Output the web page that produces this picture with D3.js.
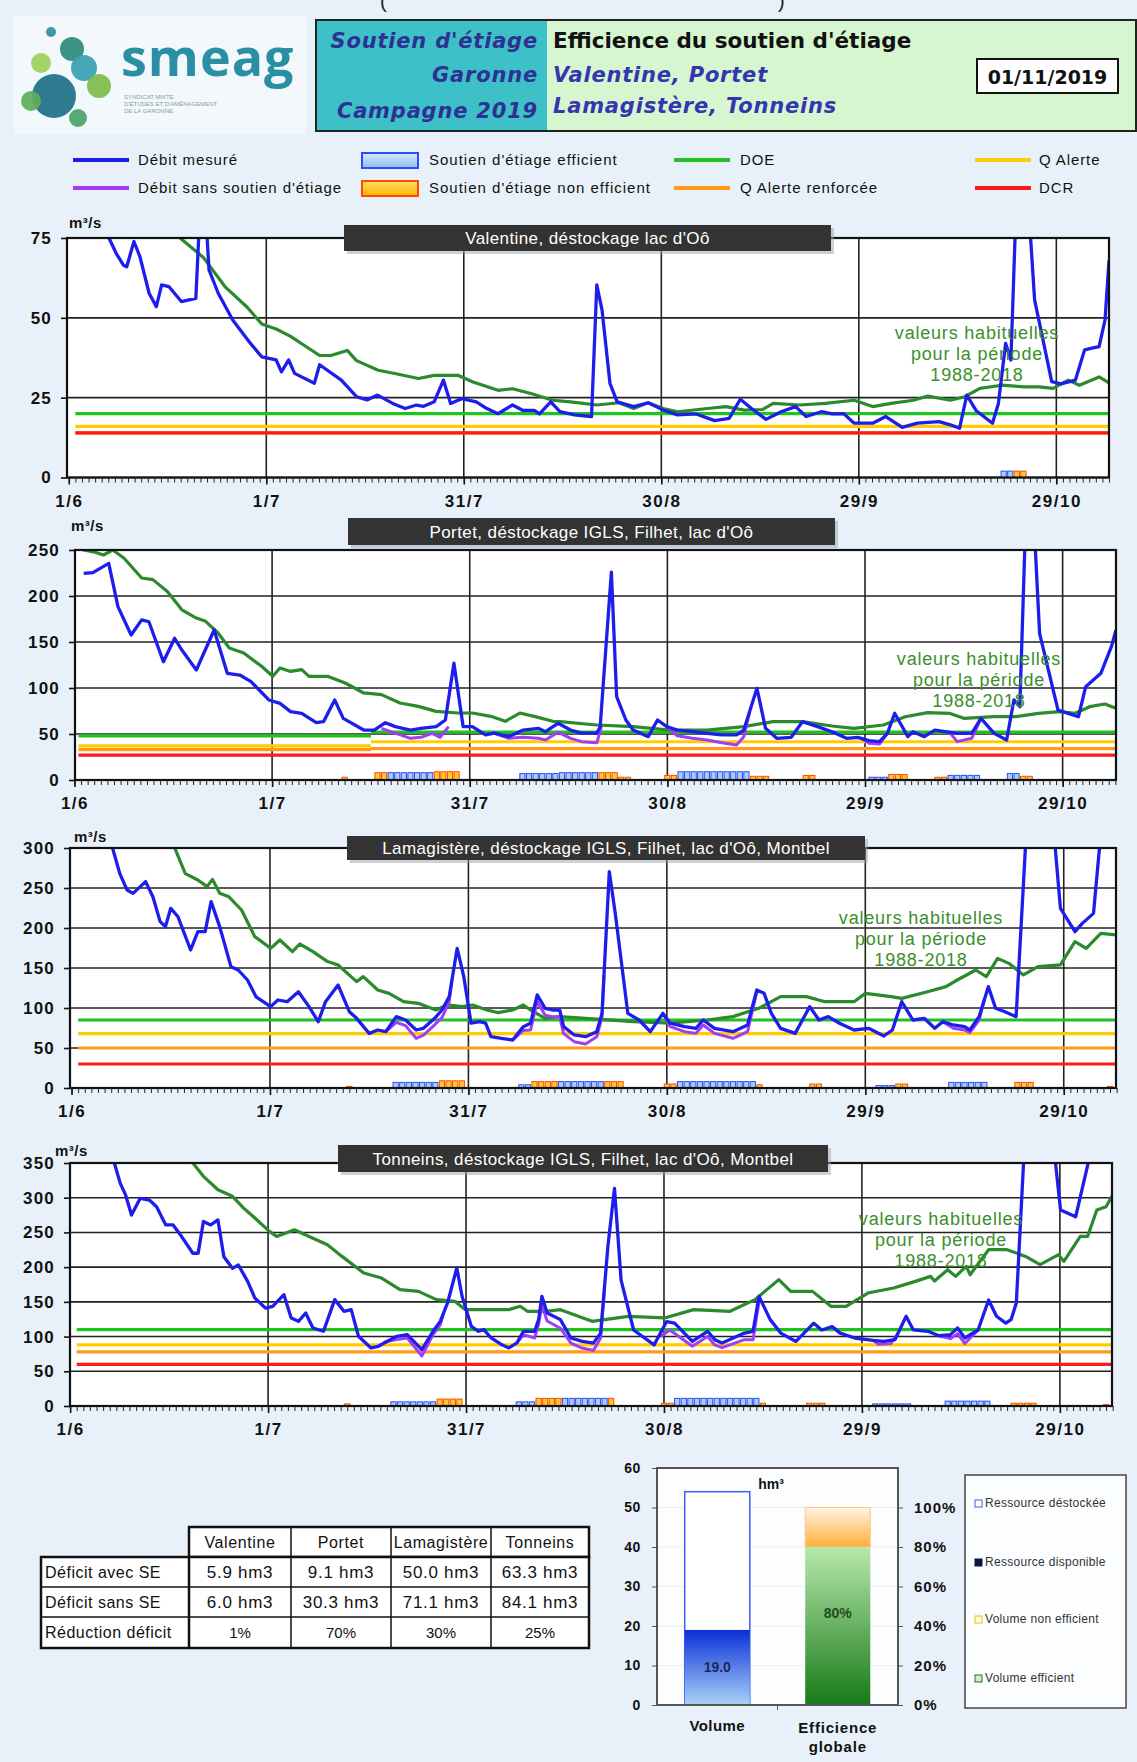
<!DOCTYPE html>
<html><head><meta charset="utf-8">
<script src="https://cdn.jsdelivr.net/npm/d3@7"></script>
<style>body{margin:0;background:#e8f1f9;}svg{display:block}</style>
</head><body><svg id="c" width="1137" height="1762"></svg>
<script>
// ---------------- DATA ----------------
const xTickDays = [0, 30, 60, 90, 120, 150];
const xTickLabels = ["1/6", "1/7", "31/7", "30/8", "29/9", "29/10"];
const limitNames = ["DOE", "Q Alerte", "Q Alerte renforcée", "DCR"];

const valentineLimits = [20, 16, 14, 14];
const portetLimitsBefore = [48, 37, 33, 27];
const portetLimitsAfter = [52, 41.6, 34, 27];
const portetLimitChangeDay = 45;
const lamagistereLimits = [85, 68, 50, 30];
const tonneinsLimits = [110, 88, 78, 60];

const valentineMeasured = [[1,100],[4,100],[6.1,75],[7.2,70.2],[8.3,66.5],[8.8,66],[9.9,73.9],[10.8,69.2],[12.2,57.7],[13.3,53.5],[14.1,60.3],[15.2,59.8],[17.1,55.1],[19.3,56.1],[20.3,100],[21.3,65],[22.7,57.7],[24.9,49.3],[27.6,42],[29.3,37.8],[31.5,36.8],[32.3,33.1],[33.4,36.8],[34.3,32.6],[37.3,29.5],[38.1,35.3],[41.4,30.5],[43.7,25.3],[45.3,24.3],[46.9,25.8],[49.2,23.2],[51.1,21.6],[52.8,22.7],[53.9,22.3],[55.5,23.7],[56.9,30.5],[58,23.2],[59.7,24.7],[61.9,23.7],[63.5,21.6],[65.2,20],[67.4,22.7],[69,21],[70.7,21],[71.5,19.9],[73.2,23.7],[74.6,20.6],[76.8,19.6],[79.4,19.1],[80.2,60.3],[81,52.4],[82.2,29.5],[83.3,23.7],[85.8,22.2],[88,23.4],[90.3,21.1],[92.5,19.6],[95.3,19.9],[98.1,17.8],[100.3,18.5],[102,24.5],[103.7,21.6],[105.9,18.2],[108.2,20.6],[110.4,22.2],[112,19.1],[114.3,20.6],[116,19.9],[117.7,20],[119.3,17],[122.1,17],[124.1,19.1],[126.6,15.7],[128.9,17],[132.2,17.5],[133.9,16.5],[135.3,15.4],[136.4,25.8],[137.8,21],[140.3,17],[141.2,23.2],[142.3,42],[143.1,36.8],[144.3,110],[145,110],[146.7,55.6],[149.3,30],[150.7,29.3],[152.9,30.5],[154.3,40],[155.4,40.5],[156.5,41],[157.4,49.4],[158,68]];
const valentineNoSupport = [];
const valentineUsual = [[1,110],[10,90],[16.9,75],[20.4,69],[23.8,59.6],[27.1,53.3],[29.3,48.1],[31.5,46.5],[33.7,44.2],[36.2,40.8],[38.1,38.2],[39.8,38.2],[42.3,39.8],[43.7,36.6],[47,33.6],[49.7,32.5],[53.1,31],[55.5,32],[59.1,32],[61.4,29.9],[65.2,27.3],[67.4,27.8],[70.2,26.3],[73.5,24.2],[76.2,23.7],[80.2,22.7],[83.6,23.4],[85.8,21.6],[88,23.4],[90.3,21.6],[92.5,20.6],[97,21.6],[99.8,22.2],[102.6,21.1],[105.4,21.3],[107,23.2],[111,22.7],[114.9,23.2],[119.3,24.2],[122.1,22.2],[124.9,23.2],[128.3,24.2],[130.5,25.5],[133.9,24.2],[136.1,25.3],[138.4,27.9],[141.7,28.9],[145.1,28.4],[147.4,28.4],[149.5,27.9],[151.8,30.5],[153.5,28.9],[156.5,31.5],[158,29.6]];
const valentineBars = [[142,143,2,"e"],[144,145,2,"n"]];

const portetMeasured = [[1.4,224.6],[2.8,225.4],[3.9,230],[5.2,235.5],[6.6,188.4],[8.6,157.6],[10.2,174],[11.3,172],[13.5,128.6],[15.2,154],[16.3,141.3],[18.5,119.6],[21.2,163],[23.2,116],[25.1,114.1],[26.8,106.9],[29.5,87],[31.2,83.3],[32.8,74.3],[34.5,72.5],[36.7,62.3],[37.8,63.4],[39.5,87],[40.8,67],[43.9,54.3],[45.5,54.3],[47.2,62.3],[48.7,58],[51,54.3],[52.6,56.2],[54.9,58],[56.3,65.2],[57.6,127],[59,58],[60.4,58],[62.4,49],[63.7,51],[65.9,47.1],[68.1,54.3],[70.4,56.2],[71.5,52.5],[73.4,61.6],[75.3,54.3],[77,51],[79.3,51],[79.8,58],[81.5,226],[82.3,90.6],[83.7,65.2],[84.8,54.3],[87.1,47.1],[88.5,65.2],[89.9,58],[91.5,54.3],[93.8,52.5],[96,50.7],[98.3,49],[100.5,49],[101.6,54.3],[103.6,99.6],[104.9,56.2],[106.6,45.3],[108.8,46.4],[110.5,63.4],[112.8,58],[115,52.5],[117.2,45.3],[118.9,46.4],[120.6,42.8],[122.2,41.7],[123.4,50.7],[124.5,72.5],[126.5,47.1],[127.3,52.5],[129,47.1],[130.6,54.3],[134,50.7],[136.2,50.7],[137.6,67],[139.6,50.7],[141.5,43.5],[142.6,87],[143.5,79.7],[144.6,330],[145.3,330],[146.5,159.4],[149.3,76],[152.4,68.8],[153.5,101.4],[155.8,116],[157.4,145],[158.1,163]];
const portetNoSupport = [
  [[46.6,56.2],[48.8,50.7],[51,45.3],[52.6,46.4],[54.3,50.7],[55.5,46.4],[56.8,58]],
  [[63.7,51],[65.9,45.3],[68.1,46.4],[70.4,45.3],[71.5,43.5],[73.4,52],[75.3,45.3],[77,41.7],[79.3,40.6],[80,58]],
  [[89.9,58],[91.5,48],[93.8,45.3],[96,43.5],[98.3,40.6],[100.5,38],[101.6,47.1],[102.5,74]],
  [[119.5,45],[120.6,39.9],[122.2,39.1],[123.4,50.7]],
  [[132.8,52],[134,41.7],[136.2,45.3],[137.6,67]]
];
const portetUsual = [[0.6,258],[1.4,250],[2.9,248],[4.4,244.6],[5.8,250],[7.5,241.3],[10.2,219.6],[11.9,217.8],[14.1,205],[16.3,185],[18.5,176],[19.9,172.5],[21.8,159.8],[23.5,143.5],[25.7,138],[28.4,123.6],[30.1,112.7],[31.2,121.7],[32.8,118],[34.5,120],[35.6,112.7],[38.4,112.7],[41.1,105.4],[43.9,94.6],[46.6,92.8],[49.4,83.7],[52.2,80],[54.9,74.6],[58.2,72.8],[60.4,72.8],[63.2,69.2],[65.4,63.8],[67.6,72.8],[69.8,69.2],[72.6,63.8],[73.7,63.4],[79.3,59.8],[84.8,58],[90.4,54.3],[96,54.3],[101.6,58],[106,63.4],[110.5,63.4],[115,58.7],[118.3,56.2],[122.8,59.8],[126.1,68.8],[129.5,73.2],[132.8,72.5],[135,67],[139.6,68.8],[142.9,68.8],[146.3,72.5],[149.6,74.3],[151.9,72.5],[154.1,79.7],[156.4,82.6],[158.1,77.9]];
const portetBars = [[41,41,3,"n"],[46,47,8,"n"],[48,54,8,"e"],[55,58,9,"n"],[68,73,7,"e"],[74,79,8,"e"],[80,82,8,"n"],[83,84,3,"n"],[90,91,5,"n"],[92,102,9,"e"],[103,105,4,"n"],[111,112,5,"n"],[121,123,3,"e"],[124,126,6,"n"],[131,132,3,"n"],[133,137,5,"e"],[142,143,7,"e"],[144,145,4,"n"]];

const lamagistereMeasured = [[1,380],[5,340],[6.2,300],[7.3,268],[8.4,247.5],[9.3,243.3],[11.2,258],[12.3,239],[13.4,208],[14.2,201.7],[15,224.6],[16.1,214],[18,172.5],[19.1,195.4],[20.2,195.4],[21.1,233],[22.4,201.7],[24.1,151.7],[25.2,147.5],[26.6,135],[27.9,114],[30.1,101.7],[31.2,110],[32.6,107.9],[34.3,120.4],[35.9,101.7],[37.3,82.9],[38.4,107.9],[40.3,128.7],[42,95.4],[43.1,87.1],[45,68.3],[46.3,72.5],[47.5,70.4],[49.1,89.2],[50.5,85],[52.1,72.5],[53.2,74.6],[54.9,87.1],[56,97.5],[57.1,114.2],[58.3,174.6],[59.3,139.2],[60.4,81],[61.7,83],[62.6,81],[63.4,64.2],[65,62.1],[66.7,60],[68.3,76.7],[69.4,81],[70.4,116.4],[71.6,99.6],[72.7,97.5],[73.8,97.5],[74.4,76.7],[76,66.3],[77.7,64.2],[79.4,70.4],[80.2,93.3],[81.3,270.4],[82.2,218.3],[84.1,93.3],[85.8,85],[87.5,70.4],[89.4,93.3],[90.5,81],[92.7,76.7],[94.4,74.6],[95.5,85],[97.2,74.6],[100,70.4],[102.2,78.8],[103.6,122.5],[104.7,118.3],[105.8,93.3],[107.2,74.6],[109.4,68.3],[111.6,101.7],[113,85],[114.4,89.2],[116.1,81],[118.3,72.5],[120.5,74.6],[122.8,65],[124.1,72.5],[125.5,107.9],[127.2,85],[128.9,87.1],[130.5,74.6],[131.7,82.9],[133.3,78.8],[135,76.7],[135.8,72.5],[137.2,89.2],[138.6,126.7],[139.7,99.6],[141.1,95.4],[142.8,89.2],[145,420],[147,480],[148.4,330],[149.5,224.6],[151.7,195.4],[152.8,205.8],[154.5,218.3],[156.5,400],[158,450]];
const lamagistereNoSupport = [
  [[47.5,70.4],[49.1,82],[50.5,78],[52.1,62],[53.2,66],[54.9,79],[56,88],[57.1,108],[57.5,134]],
  [[66.7,60],[68.3,72],[69.4,72.5],[70.4,108],[71.6,91],[72.7,89],[73.8,89],[74.4,68],[76,57.9],[77.7,55],[79.4,64],[80.2,89],[80.5,141]],
  [[89.4,93.3],[90.5,76.7],[92.7,70.4],[94.4,68.3],[95.5,78.8],[97.2,68.3],[100,62.1],[102.2,70.4],[103.6,120]],
  [[131.7,82.9],[133.3,74.6],[135,72.5],[135.8,69.2],[137.2,85],[138,110]]
];
const lamagistereUsual = [[1,420],[10,350],[15.6,300],[17.2,268],[19.1,260],[20.5,251.7],[21.3,260.8],[22.4,243.3],[23.8,239],[25.7,222.5],[27.7,189.2],[30.1,174.6],[31.5,185],[33.4,170.4],[34.5,180],[36.5,170.4],[38.7,158],[40.3,153.8],[43.1,132.9],[44.1,139.2],[46.3,122.5],[48,118.3],[50.2,107.9],[52.4,105.8],[55.1,97.5],[56.8,103.8],[59,101.7],[60.6,103.8],[62.8,97.5],[64.5,94.2],[66.7,97.5],[68.3,103.8],[69.4,97.5],[71.6,87.1],[73.8,89.2],[79.4,86],[85,83],[90.5,81],[96.1,85],[100,89.2],[103.9,99.6],[107.2,114.2],[111.1,114.2],[113.9,107.9],[118.3,107.9],[120,118.3],[123.9,114.2],[125.5,112],[129.4,120.4],[132.2,126.7],[133.9,135],[136.7,147.5],[138.3,139.2],[140,162],[141.7,155.8],[143.9,141.3],[146.1,151.7],[149.5,153.8],[151.7,182.9],[153.4,174.6],[155.6,193.3],[157.9,191.3]];
const lamagistereBars = [[42,42,2,"n"],[49,55,7,"e"],[56,59,9,"n"],[68,69,4,"e"],[70,73,8,"n"],[74,80,8,"e"],[81,83,8,"n"],[90,91,5,"n"],[92,103,8,"e"],[104,104,4,"n"],[112,113,5,"n"],[122,124,3,"e"],[125,126,5,"n"],[133,138,7,"e"],[143,145,7,"n"],[157,157,2,"n"]];

const tonneinsMeasured = [[1,420],[6.7,350],[7.6,320.7],[8.4,304],[9.3,275],[10.6,299],[12,296.7],[13.1,287],[14.5,260.8],[15.6,260.8],[16.9,244],[18.6,220],[19.4,220],[20.2,265.7],[21.3,260.8],[22.4,268],[23.3,215],[24.6,198.3],[25.5,203.1],[26.9,179.5],[28,155.5],[29.6,141],[30.7,143.5],[32.4,160.3],[33.5,126.7],[34.6,121.9],[35.7,134],[36.8,112.4],[38.4,107.6],[40.1,153.2],[41.5,136.4],[42.6,138.8],[43.7,100.4],[45.6,83.6],[46.7,86],[49.5,100.4],[51.1,102.8],[53.3,81.2],[55,107.6],[56.1,121.9],[57.2,148.4],[58.6,198.8],[59.4,158],[60.8,114.8],[61.9,107.6],[62.7,110],[63.8,98],[65.4,88.4],[66.5,83.6],[67.7,90.8],[68.7,107.6],[70.4,107.6],[71,124.4],[71.5,158],[72.3,134],[74.3,124.4],[75.9,97.9],[77.6,93],[79.3,90.6],[80.4,105],[81.5,229.9],[82.5,313.5],[83.5,181.4],[85.4,109.5],[88.5,88],[90.4,121.6],[91.6,119.3],[94.3,93],[96.6,107.6],[97.7,95.5],[98.8,90.6],[102.2,105],[103.5,107.6],[104.4,158],[106.1,124.4],[107.7,105],[110,93],[112.7,119.3],[113.9,109.5],[115.5,114.3],[116.7,105],[118.9,97.9],[121.7,94.5],[123.3,93],[125,95.5],[126.7,129.2],[127.8,109.5],[130,107.6],[131.7,101.2],[133.4,102.8],[134.5,112.4],[135.6,97.9],[137.6,109.5],[139.2,152.6],[140.4,129.2],[141.8,119.3],[142.6,124.4],[143.4,148.4],[145.2,480],[147.5,520],[149,380],[150.1,282.3],[152.4,272.6],[156,420],[158,460]];
const tonneinsNoSupport = [
  [[47.5,92],[49.5,95.6],[51.1,98],[53.3,72],[55,102.8],[56.1,117],[56.6,134]],
  [[67.7,90.8],[68.7,102.8],[70.4,98],[71,118],[71.5,145],[72.3,122.4],[74.3,112],[75.9,90.6],[77.6,83.5],[79.3,80.1],[80.4,97.9],[81,170]],
  [[89.5,100],[90.9,109.5],[94.3,86],[96.6,100],[97.7,88],[98.8,84],[102.2,95.5],[103.5,95.5],[104.4,150]],
  [[121.7,94.5],[122.5,89],[124.4,90],[125.5,105]],
  [[131.7,101.2],[133.4,97],[134.5,104],[135.6,90],[137.6,109.5]]
];
const tonneinsUsual = [[1,480],[10,420],[18.6,350],[20.2,330.8],[22.4,311.5],[24.6,302],[26.3,285],[28,270.7],[30.2,251.5],[31.3,244.2],[34,253.8],[36.2,244.2],[39,232.3],[41.2,215.5],[44.5,191.5],[47.2,184.3],[50,167.5],[52.8,165.1],[55.5,153.2],[58.3,150.8],[59.9,138.8],[62.7,138.8],[66.5,138.8],[68.2,143.6],[69.3,136.4],[72.1,136.4],[74.3,138.8],[79.1,122],[84.6,129.2],[90.1,126.8],[94.5,138.8],[100,136.4],[103.8,153.2],[107.4,182],[109.2,165.1],[112.5,165.1],[115.3,143.6],[117.6,143.6],[120.9,162.7],[124.8,170],[128.1,179.5],[130.4,186.7],[131,180],[133,196.3],[134.2,186.7],[135.8,201.1],[136.4,189.1],[139.2,225.1],[142,225.1],[144.8,215.5],[147,203.5],[149.8,217.9],[150.6,208.3],[153.1,244.2],[154.2,244.2],[155.6,282.3],[157,287.1],[158,304]];
const tonneinsBars = [[42,42,3,"n"],[49,55,6,"e"],[56,59,10,"n"],[68,70,6,"e"],[71,74,11,"n"],[75,81,11,"e"],[82,82,11,"n"],[90,91,4,"n"],[92,104,11,"e"],[105,105,4,"n"],[112,114,4,"n"],[122,127,3,"e"],[133,139,7,"e"],[143,146,4,"n"],[157,157,2,"n"]];

const stationNames = ["Valentine", "Portet", "Lamagistère", "Tonneins"];
const panelTitles = ["Valentine, déstockage lac d'Oô", "Portet, déstockage IGLS,  Filhet, lac d'Oô", "Lamagistère, déstockage IGLS, Filhet, lac d'Oô, Montbel", "Tonneins, déstockage IGLS,  Filhet, lac d'Oô, Montbel"];
const panelYMax = [75, 250, 300, 350];
const panelYStep = [25, 50, 50, 50];

const tableRowLabels = ["Déficit avec SE", "Déficit sans SE", "Réduction déficit"];
const deficitWithSE = [5.9, 9.1, 50.0, 63.3];
const deficitWithoutSE = [6.0, 30.3, 71.1, 84.1];
const deficitReduction = [1, 70, 30, 25];

const volCategories = ["Volume", "Efficience globale"];
const ressourceDisponible = 54;
const ressourceDestockee = 19.0;
const volumeEfficientPct = 80;
const volumeNonEfficientPct = 20;
const volLeftTicks = [0, 10, 20, 30, 40, 50, 60];
const volRightTicks = [0, 20, 40, 60, 80, 100];
const volLegend = ["Ressource déstockée", "Ressource disponible", "Volume non efficient", "Volume efficient"];

// ---------------- STYLE / LAYOUT ----------------
const C = {measured:"#1e1eec", nosupport:"#a23cf5", usual:"#2b8a2b", doe:"#1fc21f", alerte:"#ffcc00", renf:"#ff9a1a", dcr:"#ff1a1a",
  effFill:"#a9cdf5", effStroke:"#2b4cff", nonFill:"#ffc82e", nonStroke:"#ff4a00"};
const limitColors = [C.doe, C.alerte, C.renf, C.dcr];
const FONT = "'Liberation Sans', Arial, sans-serif";

const layout = [
  {left:67, right:1109, top:238, bottom:477.5, dMin:-0.27, dMax:158, title:[344,225,487,26], unit:[69,228], annot:[977,333]},
  {left:75, right:1116, top:550, bottom:780, dMin:0.08, dMax:158.1, title:[348,518,487,27], unit:[71,531], annot:[979,659]},
  {left:70, right:1116, top:848, bottom:1088, dMin:-0.23, dMax:157.9, title:[347,836,518,24], unit:[74,842], annot:[921,918]},
  {left:70, right:1112, top:1163, bottom:1406, dMin:-0.02, dMax:157.9, title:[338,1145,490,27], unit:[55,1156], annot:[941,1219]}
];

const svg = d3.select("#c");
const defs = svg.append("defs");
function vgrad(id, stops) {
  const g = defs.append("linearGradient").attr("id", id).attr("x1",0).attr("y1",0).attr("x2",0).attr("y2",1);
  stops.forEach(([o,c]) => g.append("stop").attr("offset", o).attr("stop-color", c));
}
vgrad("gBlue", [[0,"#0a2fd8"],[1,"#aad2f6"]]);
vgrad("gGreen", [[0,"#b8e8ad"],[1,"#167a16"]]);
vgrad("gOrange", [[0,"#fff4e0"],[1,"#ffae3a"]]);
vgrad("gLegBlue", [[0,"#d6e8fb"],[1,"#8fbef2"]]);
vgrad("gLegOr", [[0,"#ffe066"],[1,"#ffb400"]]);

svg.append("rect").attr("width",1137).attr("height",1762).attr("fill","#e8f1f9");

// stray parentheses from cropped line above
svg.append("text").attr("x",380).attr("y",8).attr("font-size",20).attr("font-family",FONT).attr("fill","#222").text("(");
svg.append("text").attr("x",778).attr("y",8).attr("font-size",20).attr("font-family",FONT).attr("fill","#222").text(")");

// ---------------- HEADER ----------------
const logo = svg.append("g");
logo.append("rect").attr("x",14).attr("y",16).attr("width",292).attr("height",118).attr("fill","#f3f8fc");
[[51,32,5,"#2f8f9d"],[72,49,12,"#2e8a78"],[41,63,10,"#9ccf5a"],[84,68,13,"#3aa0b0"],[54,96,22,"#1d6f86"],[99,86,12,"#7cbc48"],[31,101,10,"#5fae5a"],[78,118,9,"#4aa36a"]]
  .forEach(([cx,cy,r,c]) => logo.append("circle").attr("cx",cx).attr("cy",cy).attr("r",r).attr("fill",c).attr("opacity",0.92));
logo.append("text").attr("x",121).attr("y",76).attr("font-family","'Open Sans', "+FONT).attr("font-weight","bold").attr("font-size",52).attr("fill","#2a8fa3").attr("letter-spacing",1).text("smeag");
["SYNDICAT MIXTE","D'ÉTUDES ET D'AMÉNAGEMENT","DE LA GARONNE"].forEach((t,i)=>
  logo.append("text").attr("x",124).attr("y",99+i*7).attr("font-size",6).attr("font-family",FONT).attr("fill","#8a9aa6").text(t));

svg.append("rect").attr("x",316).attr("y",20).attr("width",231).attr("height",111).attr("fill","#3dc0c7");
svg.append("rect").attr("x",547).attr("y",20).attr("width",589).attr("height",111).attr("fill","#d5f6cf");
svg.append("rect").attr("x",316).attr("y",20).attr("width",820).attr("height",111).attr("fill","none").attr("stroke","#222").attr("stroke-width",2);
const HF = "'DejaVu Sans', sans-serif";
[["Soutien d'étiage",48],["Garonne",82],["Campagne 2019",118]].forEach(([t,y]) =>
  svg.append("text").attr("x",538).attr("y",y).attr("text-anchor","end").attr("font-family",HF).attr("font-style","italic").attr("font-weight","bold").attr("font-size",21).attr("letter-spacing",0.8).attr("fill","#2e3192").text(t));
svg.append("text").attr("x",553).attr("y",48).attr("font-family",HF).attr("font-weight","bold").attr("font-size",21.5).attr("fill","#111").text("Efficience du soutien d'étiage");
svg.append("text").attr("x",553).attr("y",82).attr("font-family",HF).attr("font-style","italic").attr("font-weight","bold").attr("font-size",21).attr("letter-spacing",0.8).attr("fill","#3535b0").text("Valentine, Portet");
svg.append("text").attr("x",553).attr("y",113).attr("font-family",HF).attr("font-style","italic").attr("font-weight","bold").attr("font-size",21).attr("letter-spacing",0.8).attr("fill","#3535b0").text("Lamagistère, Tonneins");
svg.append("rect").attr("x",977).attr("y",59).attr("width",141).attr("height",34).attr("fill","#fff").attr("stroke","#111").attr("stroke-width",2);
svg.append("text").attr("x",1047.5).attr("y",84).attr("text-anchor","middle").attr("font-family",HF).attr("font-weight","bold").attr("font-size",19).attr("fill","#111").text("01/11/2019");

// ---------------- LEGEND ----------------
const leg = svg.append("g").attr("font-family",FONT).attr("font-size",15).attr("fill","#111");
function legLine(x1,y,color,label,tx){ leg.append("line").attr("x1",x1).attr("x2",x1+56).attr("y1",y).attr("y2",y).attr("stroke",color).attr("stroke-width",4);
  leg.append("text").attr("x",tx).attr("y",y+5).attr("letter-spacing",0.9).text(label); }
function legBox(x,y,fill,stroke,label,tx){ leg.append("rect").attr("x",x).attr("y",y-7).attr("width",56).attr("height",15).attr("fill",fill).attr("stroke",stroke).attr("stroke-width",2);
  leg.append("text").attr("x",tx).attr("y",y+5).attr("letter-spacing",1).text(label); }
legLine(73,160,C.measured,"Débit mesuré",138);
legLine(73,188,C.nosupport,"Débit sans soutien d'étiage",138);
legBox(362,160,"url(#gLegBlue)",C.effStroke,"Soutien d'étiage efficient",429);
legBox(362,188,"url(#gLegOr)",C.nonStroke,"Soutien d'étiage non efficient",429);
legLine(674,160,C.doe,"DOE",740);
legLine(674,188,C.renf,"Q Alerte renforcée",740);
legLine(975,160,C.alerte,"Q Alerte",1039);
legLine(975,188,C.dcr,"DCR",1039);

// ---------------- PANELS ----------------
const panels = [
  {measured:valentineMeasured, nos:valentineNoSupport, usual:valentineUsual, bars:valentineBars, limits:[[1,158,valentineLimits]]},
  {measured:portetMeasured, nos:portetNoSupport, usual:portetUsual, bars:portetBars, limits:[[0.6,portetLimitChangeDay,portetLimitsBefore],[portetLimitChangeDay,158.1,portetLimitsAfter]]},
  {measured:lamagistereMeasured, nos:lamagistereNoSupport, usual:lamagistereUsual, bars:lamagistereBars, limits:[[1,158,lamagistereLimits]]},
  {measured:tonneinsMeasured, nos:tonneinsNoSupport, usual:tonneinsUsual, bars:tonneinsBars, limits:[[1,158,tonneinsLimits]]}
];

panels.forEach((p, i) => {
  const L = layout[i];
  const x = d3.scaleLinear().domain([L.dMin, L.dMax]).range([L.left, L.right]);
  const y = d3.scaleLinear().domain([0, panelYMax[i]]).range([L.bottom, L.top]);
  const g = svg.append("g");
  const clipId = "clip" + i;
  defs.append("clipPath").attr("id", clipId).append("rect").attr("x",L.left).attr("y",L.top).attr("width",L.right-L.left).attr("height",L.bottom-L.top);
  g.append("rect").attr("x",L.left).attr("y",L.top).attr("width",L.right-L.left).attr("height",L.bottom-L.top).attr("fill","#fff");
  const yTicks = d3.range(0, panelYMax[i] + 0.1, panelYStep[i]);
  g.selectAll(null).data(yTicks).enter().append("line").attr("x1",L.left).attr("x2",L.right).attr("y1",d=>y(d)).attr("y2",d=>y(d)).attr("stroke","#222").attr("stroke-width",1.6);
  g.selectAll(null).data(xTickDays.slice(1)).enter().append("line").attr("x1",d=>x(d)).attr("x2",d=>x(d)).attr("y1",L.top).attr("y2",L.bottom).attr("stroke","#222").attr("stroke-width",1.6);
  const pg = g.append("g").attr("clip-path", `url(#${clipId})`);
  // threshold lines: DOE, Alerte, Alerte renforcée, DCR (DCR on top)
  [0,1,2,3].forEach(k => {
    p.limits.forEach(([s,e,vals]) => {
      pg.append("line").attr("x1",x(s)).attr("x2",x(e)).attr("y1",y(vals[k])).attr("y2",y(vals[k])).attr("stroke",limitColors[k]).attr("stroke-width",3.2);
    });
  });
  const items = [];
  p.bars.forEach(([s,e,v,t]) => { for (let d=s; d<=e; d++) items.push({d, v, t}); });
  pg.selectAll(null).data(items).enter().append("rect")
    .attr("x", d=>x(d.d)-2.6).attr("width",5.2).attr("y", d=>y(d.v)).attr("height", d=>y(0)-y(d.v))
    .attr("fill", d=>d.t==="e"?C.effFill:C.nonFill).attr("stroke", d=>d.t==="e"?C.effStroke:C.nonStroke).attr("stroke-width",1);
  const line = d3.line().x(d=>x(d[0])).y(d=>y(d[1]));
  pg.append("path").attr("d", line(p.usual)).attr("fill","none").attr("stroke",C.usual).attr("stroke-width",3.2).attr("stroke-linejoin","round");
  p.nos.forEach(seg => pg.append("path").attr("d", line(seg)).attr("fill","none").attr("stroke",C.nosupport).attr("stroke-width",3).attr("stroke-linejoin","round"));
  pg.append("path").attr("d", line(p.measured)).attr("fill","none").attr("stroke",C.measured).attr("stroke-width",3.3).attr("stroke-linejoin","round");
  g.append("rect").attr("x",L.left).attr("y",L.top).attr("width",L.right-L.left).attr("height",L.bottom-L.top).attr("fill","none").attr("stroke","#111").attr("stroke-width",2.2);
  const minor = g.append("g").attr("transform",`translate(0,${L.bottom})`)
    .call(d3.axisBottom(x).tickValues(d3.range(0,159)).tickSize(5).tickFormat(""));
  minor.select(".domain").remove();
  minor.selectAll("line").attr("stroke","#222").attr("stroke-width",1);
  const major = g.append("g").attr("transform",`translate(0,${L.bottom})`)
    .call(d3.axisBottom(x).tickValues(xTickDays).tickSize(7).tickPadding(10).tickFormat((d,j)=>xTickLabels[j]));
  major.select(".domain").remove();
  major.selectAll("line").attr("stroke","#111").attr("stroke-width",1.6);
  major.selectAll("text").attr("font-family",FONT).attr("font-weight","bold").attr("font-size",17).attr("letter-spacing",1.5).attr("fill","#111");
  const ya = g.append("g").attr("transform",`translate(${L.left},0)`)
    .call(d3.axisLeft(y).tickValues(yTicks).tickSize(6).tickPadding(9));
  ya.select(".domain").remove();
  ya.selectAll("line").attr("stroke","#111").attr("stroke-width",1.6);
  ya.selectAll("text").attr("font-family",FONT).attr("font-weight","bold").attr("font-size",17).attr("letter-spacing",1.2).attr("fill","#111");
  g.append("text").attr("x",L.unit[0]).attr("y",L.unit[1]).attr("font-family",FONT).attr("font-weight","bold").attr("font-size",15).attr("letter-spacing",0.5).attr("fill","#111").text("m³/s");
  const [tx,ty,tw,th] = L.title;
  g.append("rect").attr("x",tx+3).attr("y",ty+3).attr("width",tw).attr("height",th).attr("fill","#9aa4ad").attr("opacity",0.5);
  g.append("rect").attr("x",tx).attr("y",ty).attr("width",tw).attr("height",th).attr("fill","#333");
  g.append("text").attr("x",tx+tw/2).attr("y",ty+th/2+6).attr("text-anchor","middle").attr("font-family",FONT).attr("font-size",17).attr("letter-spacing",0.4).attr("fill","#fff").text(panelTitles[i]);
  ["valeurs habituelles","pour la période","1988-2018"].forEach((t,k)=>
    g.append("text").attr("x",L.annot[0]).attr("y",L.annot[1]+6+k*21).attr("text-anchor","middle").attr("font-family",FONT).attr("font-size",18).attr("letter-spacing",0.8).attr("fill","#3a8f2a").text(t));
});

// ---------------- TABLE ----------------
const tb = svg.append("g").attr("font-family",FONT).attr("fill","#111");
const colX = [41, 189, 291, 391, 491, 589];
const rowY = [1527, 1557, 1587, 1617, 1648];
tb.append("rect").attr("x",colX[1]).attr("y",rowY[0]).attr("width",colX[5]-colX[1]).attr("height",rowY[1]-rowY[0]).attr("fill","#fff").attr("stroke","#111").attr("stroke-width",2.5);
tb.append("rect").attr("x",colX[0]).attr("y",rowY[1]).attr("width",colX[5]-colX[0]).attr("height",rowY[4]-rowY[1]).attr("fill","#fff").attr("stroke","#111").attr("stroke-width",2.5);
for (let c=2;c<5;c++) tb.append("line").attr("x1",colX[c]).attr("x2",colX[c]).attr("y1",rowY[0]).attr("y2",rowY[4]).attr("stroke","#111").attr("stroke-width",1.5);
tb.append("line").attr("x1",colX[1]).attr("x2",colX[1]).attr("y1",rowY[1]).attr("y2",rowY[4]).attr("stroke","#111").attr("stroke-width",2.5);
for (let r=2;r<4;r++) tb.append("line").attr("x1",colX[0]).attr("x2",colX[5]).attr("y1",rowY[r]).attr("y2",rowY[r]).attr("stroke","#111").attr("stroke-width",1.5);
stationNames.forEach((n,c)=> tb.append("text").attr("x",(colX[c+1]+colX[c+2])/2).attr("y",rowY[0]+21).attr("text-anchor","middle").attr("font-size",16).attr("letter-spacing",0.6).text(n));
const tableVals = [deficitWithSE.map(v=>v.toFixed(1)+" hm3"), deficitWithoutSE.map(v=>v.toFixed(1)+" hm3"), deficitReduction.map(v=>v+"%")];
tableRowLabels.forEach((lab,r)=>{
  tb.append("text").attr("x",colX[0]+4).attr("y",rowY[r+1]+21).attr("font-size",16).attr("letter-spacing",0.5).text(lab);
  tableVals[r].forEach((t,c)=> tb.append("text").attr("x",(colX[c+1]+colX[c+2])/2).attr("y",rowY[r+1]+21).attr("text-anchor","middle").attr("font-size",r===2?15:17).attr("letter-spacing",r===2?0:0.7).text(t));
});

// ---------------- VOLUME / EFFICIENCE CHART ----------------
const vg = svg.append("g").attr("font-family",FONT);
const vL = 657, vR = 898, vT = 1468, vB = 1705;
const yL = d3.scaleLinear().domain([0,60]).range([vB,vT]);
const yR = d3.scaleLinear().domain([0,120]).range([vB,vT]);
const xb = d3.scaleBand().domain(volCategories).range([vL,vR]).paddingInner(0.46).paddingOuter(0.23);
vg.append("rect").attr("x",vL).attr("y",vT).attr("width",vR-vL).attr("height",vB-vT).attr("fill","#fbfdff");
vg.selectAll(null).data(volLeftTicks.slice(1,-1)).enter().append("line").attr("x1",vL).attr("x2",vR).attr("y1",d=>yL(d)).attr("y2",d=>yL(d)).attr("stroke","#eceff2").attr("stroke-width",1);
const bw = xb.bandwidth();
vg.append("rect").attr("x",xb("Volume")).attr("y",yL(ressourceDisponible)).attr("width",bw).attr("height",yL(0)-yL(ressourceDisponible)).attr("fill","#fff").attr("stroke","#3a5cff").attr("stroke-width",1.5);
vg.append("rect").attr("x",xb("Volume")).attr("y",yL(ressourceDestockee)).attr("width",bw).attr("height",yL(0)-yL(ressourceDestockee)).attr("fill","url(#gBlue)");
vg.append("text").attr("x",xb("Volume")+bw/2).attr("y",yL(ressourceDestockee/2)+5).attr("text-anchor","middle").attr("font-size",14).attr("font-weight","bold").attr("fill","#1a2a55").text(ressourceDestockee.toFixed(1));
const xe = xb("Efficience globale");
vg.append("rect").attr("x",xe).attr("y",yR(volumeEfficientPct+volumeNonEfficientPct)).attr("width",bw).attr("height",yR(volumeEfficientPct)-yR(volumeEfficientPct+volumeNonEfficientPct)).attr("fill","url(#gOrange)").attr("stroke","#ffc680").attr("stroke-width",1);
vg.append("rect").attr("x",xe).attr("y",yR(volumeEfficientPct)).attr("width",bw).attr("height",yR(0)-yR(volumeEfficientPct)).attr("fill","url(#gGreen)");
vg.append("text").attr("x",xe+bw/2).attr("y",1618).attr("text-anchor","middle").attr("font-size",14).attr("font-weight","bold").attr("fill","#244a1a").text(volumeEfficientPct+"%");
vg.append("rect").attr("x",vL).attr("y",vT).attr("width",vR-vL).attr("height",vB-vT).attr("fill","none").attr("stroke","#555").attr("stroke-width",2);
const la = vg.append("g").attr("transform",`translate(${vL},0)`).call(d3.axisLeft(yL).tickValues(volLeftTicks).tickSize(5).tickPadding(11));
la.select(".domain").remove(); la.selectAll("line").attr("stroke","#555");
la.selectAll("text").attr("font-family",FONT).attr("font-weight","bold").attr("font-size",14).attr("letter-spacing",0.6).attr("fill","#111");
const ra = vg.append("g").attr("transform",`translate(${vR},0)`).call(d3.axisRight(yR).tickValues(volRightTicks).tickSize(5).tickPadding(11).tickFormat(d=>d+"%"));
ra.select(".domain").remove(); ra.selectAll("line").attr("stroke","#555");
ra.selectAll("text").attr("font-family",FONT).attr("font-weight","bold").attr("font-size",15).attr("letter-spacing",1).attr("fill","#111");
vg.append("line").attr("x1",(xb("Volume")+bw+xe)/2).attr("x2",(xb("Volume")+bw+xe)/2).attr("y1",vB).attr("y2",vB+5).attr("stroke","#555");
vg.append("text").attr("x",771).attr("y",1489).attr("text-anchor","middle").attr("font-size",14).attr("font-weight","bold").attr("fill","#111").text("hm³");
vg.append("text").attr("x",xb("Volume")+bw/2).attr("y",1731).attr("text-anchor","middle").attr("font-size",15).attr("font-weight","bold").attr("letter-spacing",0.4).attr("fill","#111").text("Volume");
vg.append("text").attr("x",xe+bw/2).attr("y",1733).attr("text-anchor","middle").attr("font-size",15).attr("font-weight","bold").attr("letter-spacing",0.8).attr("fill","#111").text("Efficience");
vg.append("text").attr("x",xe+bw/2).attr("y",1752).attr("text-anchor","middle").attr("font-size",15).attr("font-weight","bold").attr("letter-spacing",0.8).attr("fill","#111").text("globale");
vg.append("rect").attr("x",965).attr("y",1475).attr("width",161).attr("height",233).attr("fill","#fcfdff").attr("stroke","#444").attr("stroke-width",1.5);
const vlStyle = [["#fff","#3a5cff"],["#0d1440","#0d1440"],["#fffbe0","#e8c800"],["#cfeec8","#2b6e2b"]];
const vlY = [1506, 1565, 1622, 1681];
volLegend.forEach((t,k)=>{
  vg.append("rect").attr("x",975).attr("y",vlY[k]-6).attr("width",7).attr("height",7).attr("fill",vlStyle[k][0]).attr("stroke",vlStyle[k][1]).attr("stroke-width",1);
  vg.append("text").attr("x",985).attr("y",vlY[k]+1).attr("font-size",12).attr("letter-spacing",0.3).attr("fill","#333").text(t);
});
</script></body></html>
